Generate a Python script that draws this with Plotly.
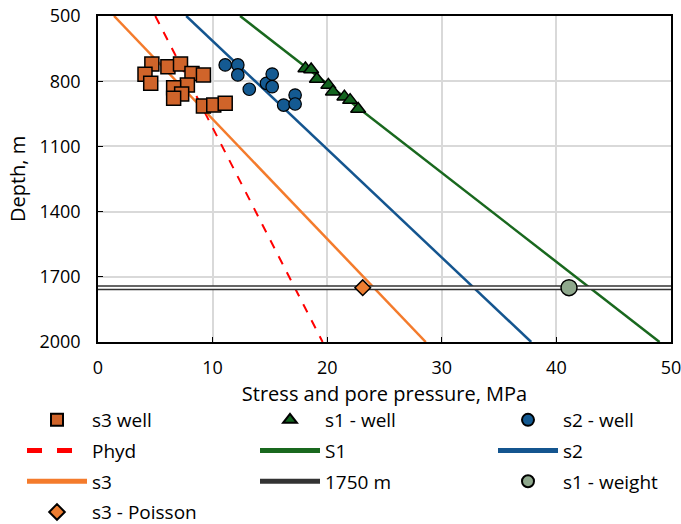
import plotly.graph_objects as go

# ---- data ----
s3_well_x = [4.7, 6.1, 7.2, 4.1, 4.6, 8.2, 9.2, 7.8, 6.6, 7.3, 6.6, 9.2, 10.1, 11.1]
s3_well_d = [721, 733, 721, 768, 810, 764, 771, 818, 830, 859, 879, 914, 910, 902]

s1_well_x = [18.1, 18.6, 19.1, 20.1, 20.5, 21.5, 22.0, 22.7]
s1_well_d = [741, 746, 790, 817, 848, 871, 887, 928]

s2_well_x = [11.1, 12.2, 12.2, 13.2, 14.7, 15.2, 15.2, 16.2, 17.2, 17.2]
s2_well_d = [725, 725, 771, 837, 810, 767, 825, 910, 864, 905]

line_depth = [500, 2000]
phyd_x = [5.0, 19.6]
s1_x = [12.4, 49.0]
s2_x = [7.7, 37.8]
s3_x = [1.4, 28.6]

h1750_x = [0, 50]
h1750_d = [1750, 1750]

s1_weight_x = [41.1]
s1_weight_d = [1750]
s3_poisson_x = [23.1]
s3_poisson_d = [1750]

x_ticks = [0, 10, 20, 30, 40, 50]
y_ticks = [500, 800, 1100, 1400, 1700, 2000]

FONT = "Open Sans"
W, H = 681, 524
ML, MR, MT, MB = 98, 10, 16, 182
fig = go.Figure()

def add(tr, legend, rank):
    tr.legend = legend
    tr.legendrank = rank
    tr.legendgroup = f"{legend}_{rank}"
    fig.add_trace(tr)

# lines first (below markers)
add(go.Scatter(x=phyd_x, y=line_depth, mode="lines", name="Phyd",
               line=dict(color="#FF0000", width=2, dash="dash")), "legend", 2)
add(go.Scatter(x=s1_x, y=line_depth, mode="lines", name="S1",
               line=dict(color="#19681E", width=2.5)), "legend2", 2)
add(go.Scatter(x=s2_x, y=line_depth, mode="lines", name="s2",
               line=dict(color="#14558F", width=2.5)), "legend3", 2)
add(go.Scatter(x=s3_x, y=line_depth, mode="lines", name="s3",
               line=dict(color="#F47B2C", width=2.5)), "legend", 3)
add(go.Scatter(x=h1750_x, y=h1750_d, mode="lines", name="1750 m",
               line=dict(color="#333333", width=5)), "legend2", 3)
fig.add_trace(go.Scatter(x=h1750_x, y=h1750_d, mode="lines", showlegend=False,
                         line=dict(color="#FFFFFF", width=2), hoverinfo="skip"))

add(go.Scatter(x=s3_well_x, y=s3_well_d, mode="markers", name="s3 well",
               marker=dict(symbol="square", size=14, color="#D0642A",
                           line=dict(color="#000000", width=1.5))), "legend", 1)
add(go.Scatter(x=s1_well_x, y=s1_well_d, mode="markers", name="s1 - well",
               marker=dict(symbol="triangle-up", size=13, color="#13641F",
                           line=dict(color="#000000", width=1.5))), "legend2", 1)
add(go.Scatter(x=s2_well_x, y=s2_well_d, mode="markers", name="s2 - well",
               marker=dict(symbol="circle", size=12.5, color="#145A92",
                           line=dict(color="#000000", width=1.2))), "legend3", 1)
add(go.Scatter(x=s1_weight_x, y=s1_weight_d, mode="markers", name="s1 - weight",
               marker=dict(symbol="circle", size=16, color="#8FA88D",
                           line=dict(color="#000000", width=1.5))), "legend3", 3)
add(go.Scatter(x=s3_poisson_x, y=s3_poisson_d, mode="markers", name="s3 - Poisson",
               marker=dict(symbol="diamond", size=12, color="#ED7D31",
                           line=dict(color="#000000", width=1.5))), "legend", 4)

def leg(px_left, px_top):
    return dict(orientation="v", xref="container", yref="container",
                x=px_left / W, y=1 - px_top / H, yanchor="top", xanchor="left",
                font=dict(family=FONT, size=19, color="#000000"),
                bgcolor="rgba(0,0,0,0)", traceorder="grouped", tracegroupgap=3,
                itemwidth=60, itemsizing="constant", borderwidth=0)

plot_w = W - ML - MR
fig.update_layout(
    width=W, height=H,
    margin=dict(l=ML, r=MR, t=MT, b=MB, autoexpand=False),
    plot_bgcolor="#FFFFFF", paper_bgcolor="#FFFFFF",
    font=dict(family=FONT, size=18, color="#000000"),
    legend=leg(22, 401),
    legend2=leg(255, 401),
    legend3=leg(493, 401),
    xaxis=dict(range=[0, 50], tickvals=x_ticks, ticks="inside", ticklen=5,
               tickcolor="#000000", showline=True, linecolor="#000000", linewidth=1.5,
               mirror=True, showgrid=True, gridcolor="#D9D9D9", gridwidth=1.5,
               zeroline=False, tickfont=dict(size=18), ticklabeloverflow="allow",
               ticklabelstandoff=9,
               title=dict(text="Stress and pore pressure, MPa", font=dict(size=20), standoff=9)),
    yaxis=dict(range=[2000, 500], tickvals=y_ticks, ticks="inside", ticklen=5,
               tickcolor="#000000", showline=True, linecolor="#000000", linewidth=1.5,
               mirror=True, showgrid=True, gridcolor="#D9D9D9", gridwidth=1.5,
               zeroline=False, tickfont=dict(size=18),
               ticklabelstandoff=12),
    annotations=[dict(text="Depth, m", textangle=-90, xref="paper", yref="paper",
                      x=(17 - ML) / plot_w, y=0.5, xanchor="center", yanchor="middle",
                      showarrow=False, font=dict(family=FONT, size=20, color="#000000"))],
)

fig.write_html("out.html", config={"displayModeBar": False},
               post_script="document.body.style.margin='0';document.body.style.overflow='hidden';")
